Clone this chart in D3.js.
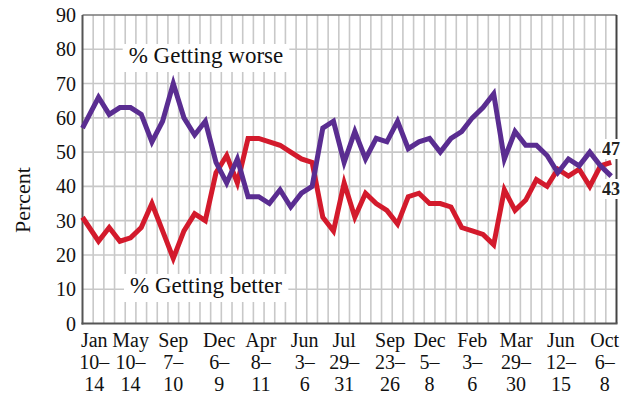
<!DOCTYPE html>
<html><head><meta charset="utf-8">
<script src="https://cdn.jsdelivr.net/npm/d3@7"></script>
<style>
html,body{margin:0;padding:0;background:#fff;}
svg{display:block;font-family:"Liberation Serif","Times New Roman",serif;}
</style></head>
<body><svg id="c" width="628" height="398"></svg>
<script>
const worse = [57,66,61,63,63,61,53,59,70,60, 55,59,47,41,48,37,37,35,39,34, 38,40,57,59,47,56,48,54,53,59, 51,53,54,50,54,56,60,63,67,48, 56,52,52,49,44,48,46,50,46,43];
const better = [31,24,28,24,25,28,35,27,19,27, 32,30,44,49,41,54,54,53,52,50, 48,47,31,27,41,31,38,35,33,29, 37,38,35,35,34,28,27,26,23,39, 33,36,42,40,45,43,45,40,46,47];
// poll slot (first poll sits on the left axis)
const pollSlot = [-0.5,1,2,3,4,5,6,7,8,9, 10,11,12,13,14,15,16,17,18,19, 20,21,22,23,24,25,26,27,28,29, 30,31,32,33,34,35,36,37,38,39, 40,41,42,43,44,45,46,47,48,49];
const tickSlot = [0.6,4,8,12.3,16.2,20.3,24,28.3,32,36,40.1,44.3,48.4];
const tickMonth = ["Jan","May","Sep","Dec","Apr","Jun","Jul","Sep","Dec","Feb","Mar","Jun","Oct"];
const tickDays1 = ["10–","10–","7–","6–","8–","3–","29–","23–","5–","3–","29–","12–","6–"];
const tickDays2 = ["14","14","10","9","11","6","31","26","8","6","30","15","8"];
const yTicks = [0,10,20,30,40,50,60,70,80,90];

const svg = d3.select("#c");
const L=82.5, R=616.5, T=15, B=323.5;
const x = d3.scaleLinear().domain([-0.5,49.5]).range([L,R]);
const y = d3.scaleLinear().domain([0,90]).range([B,T]);
const boundaries = d3.range(1,50).map(k=>k-0.5);

// grid
const g = svg.append("g");
g.selectAll("line.v").data(boundaries).join("line")
  .attr("x1",d=>x(d)).attr("x2",d=>x(d)).attr("y1",T).attr("y2",B)
  .attr("stroke","#c8c8c8").attr("stroke-width",1.6);
g.selectAll("line.h").data(yTicks.slice(1,-1)).join("line")
  .attr("x1",L).attr("x2",R).attr("y1",d=>y(d)).attr("y2",d=>y(d))
  .attr("stroke","#c8c8c8").attr("stroke-width",1.6);

// series labels with white boxes
function boxLabel(txt, xc, yb){
  const t = svg.append("text").attr("x",xc).attr("y",yb).attr("text-anchor","middle")
    .attr("font-size",23).attr("fill","#111").text(txt);
  const bb = t.node().getBBox();
  svg.insert("rect", () => t.node()).attr("x",bb.x-6).attr("y",bb.y+1).attr("width",bb.width+12).attr("height",bb.height+3).attr("fill","#fff");
}
boxLabel("% Getting worse", 206, 63);
boxLabel("% Getting better", 206, 293);

// frame
svg.append("line").attr("x1",L).attr("x2",R).attr("y1",T).attr("y2",T).attr("stroke","#777").attr("stroke-width",1.6);
svg.append("line").attr("x1",R).attr("x2",R).attr("y1",T).attr("y2",B).attr("stroke","#444").attr("stroke-width",2);
svg.append("line").attr("x1",L).attr("x2",L).attr("y1",T).attr("y2",B+1).attr("stroke","#555").attr("stroke-width",2);
svg.append("line").attr("x1",L-1).attr("x2",R+1).attr("y1",B).attr("y2",B).attr("stroke","#555").attr("stroke-width",2.2);

// lines
const line = d3.line().x((d,i)=>x(pollSlot[i])).y(d=>y(d));
svg.append("path").datum(better).attr("d",line).attr("fill","none")
  .attr("stroke","#d31a2c").attr("stroke-width",5).attr("stroke-linejoin","miter");
svg.append("path").datum(worse).attr("d",line).attr("fill","none")
  .attr("stroke","#5a2d91").attr("stroke-width",5).attr("stroke-linejoin","miter");

// y axis labels
svg.selectAll("text.yt").data(yTicks).join("text")
  .attr("x",76).attr("y",d=>y(d)+7).attr("text-anchor","end")
  .attr("font-size",20).attr("fill","#111").text(d=>d);
svg.append("text").attr("transform","translate(30,200) rotate(-90)")
  .attr("text-anchor","middle").attr("font-size",22).attr("fill","#111").text("Percent");

// x labels
const xl = svg.append("g");
tickSlot.forEach((ts,k)=>{
  const xc = x(ts);
  xl.append("text").attr("x",xc).attr("y",347).attr("text-anchor","middle").attr("font-size",20).attr("fill","#111").text(tickMonth[k]);
  xl.append("text").attr("x",xc).attr("y",369).attr("text-anchor","middle").attr("font-size",20).attr("fill","#111").text(tickDays1[k]);
  xl.append("text").attr("x",xc).attr("y",391).attr("text-anchor","middle").attr("font-size",20).attr("fill","#111").text(tickDays2[k]);
});

// end labels
function endLabel(v, yb){
  const t = svg.append("text").attr("x",611).attr("y",yb).attr("text-anchor","middle")
    .attr("font-size",18).attr("font-weight","bold").attr("fill","#222").text(v);
  const bb = t.node().getBBox();
  svg.insert("rect", () => t.node()).attr("x",bb.x-1).attr("y",bb.y).attr("width",bb.width+2).attr("height",bb.height).attr("fill","#fff");
}
endLabel(better[better.length-1], 155);
endLabel(worse[worse.length-1], 195);
</script></body></html>
